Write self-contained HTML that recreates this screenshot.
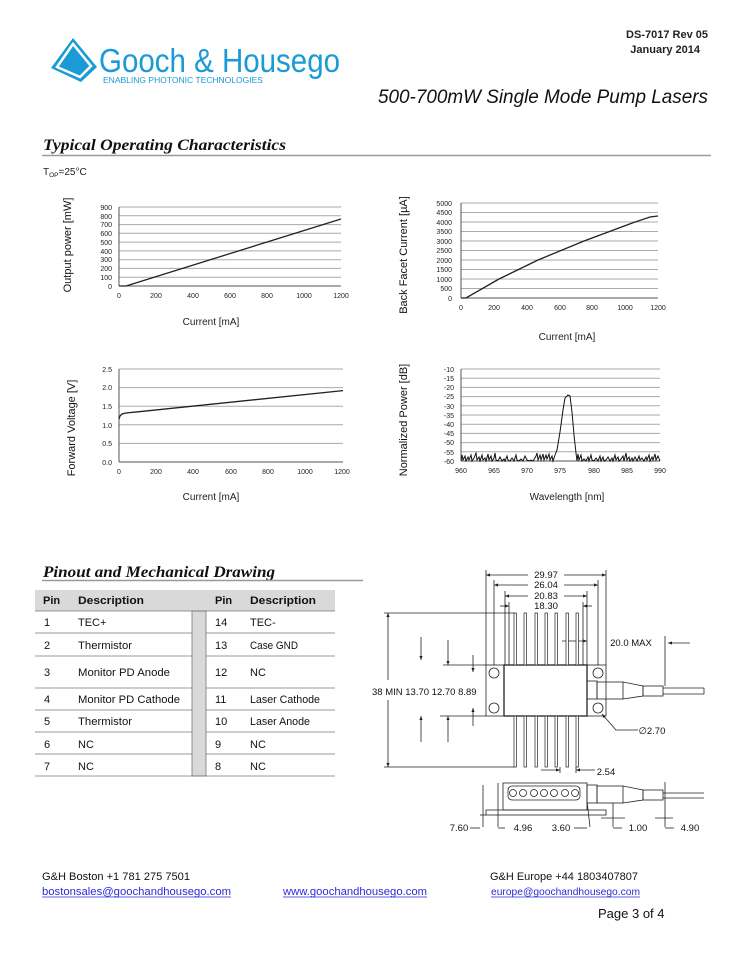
<!DOCTYPE html>
<html><head><meta charset="utf-8"><style>
html,body{margin:0;padding:0;background:#fff;}
svg{display:block}
text{font-family:"Liberation Sans",sans-serif;}
</style></head><body>
<svg width="754" height="976" viewBox="0 0 754 976" xmlns="http://www.w3.org/2000/svg">
<defs>
<marker id="ar" viewBox="0 0 10 10" refX="10" refY="5" markerWidth="5" markerHeight="5" orient="auto-start-reverse"><path d="M0,1 L10,5 L0,9 z" fill="#222"/></marker>
</defs>
<rect width="754" height="976" fill="#fff"/>
<!-- Logo -->
<polygon points="73,38 51,68 81,82 97,67" fill="#1a9ad6"/>
<polygon points="73,44 57,67 80,77 91,66" fill="none" stroke="#fff" stroke-width="2.5"/>
<text x="99" y="72" font-size="33" fill="#1a9ad6" textLength="241" lengthAdjust="spacingAndGlyphs">Gooch &amp; Housego</text>
<text x="103" y="83" font-size="8.6" fill="#1a9ad6" textLength="160" lengthAdjust="spacingAndGlyphs">ENABLING PHOTONIC TECHNOLOGIES</text>
<text x="708" y="38" font-size="11" font-weight="bold" text-anchor="end" fill="#222">DS-7017 Rev 05</text>
<text x="700" y="53" font-size="11" font-weight="bold" text-anchor="end" fill="#222">January 2014</text>
<text x="378" y="103" font-size="19.5" font-style="italic" fill="#111" textLength="330" lengthAdjust="spacingAndGlyphs">500-700mW Single Mode Pump Lasers</text>
<text x="43" y="150" font-size="16" font-weight="bold" font-style="italic" style="font-family:'Liberation Serif',serif" fill="#111" textLength="243" lengthAdjust="spacingAndGlyphs">Typical Operating Characteristics</text>
<line x1="42" y1="155.5" x2="711" y2="155.5" stroke="#999" stroke-width="1.5"/>
<text x="43" y="175" font-size="10" fill="#222">T<tspan font-size="6.5" dy="2">OP</tspan><tspan dy="-2">=25°C</tspan></text>

<!-- Chart 1 -->
<g stroke="#aaa" stroke-width="1">
<line x1="119" y1="207" x2="341" y2="207"/><line x1="119" y1="215.8" x2="341" y2="215.8"/><line x1="119" y1="224.6" x2="341" y2="224.6"/><line x1="119" y1="233.3" x2="341" y2="233.3"/><line x1="119" y1="242.1" x2="341" y2="242.1"/><line x1="119" y1="250.9" x2="341" y2="250.9"/><line x1="119" y1="259.7" x2="341" y2="259.7"/><line x1="119" y1="268.4" x2="341" y2="268.4"/><line x1="119" y1="277.2" x2="341" y2="277.2"/>
</g>
<line x1="119" y1="286" x2="341" y2="286" stroke="#555"/><line x1="119" y1="207" x2="119" y2="286" stroke="#555"/>
<g font-size="7" text-anchor="end" fill="#222">
<text x="112" y="210">900</text><text x="112" y="219">800</text><text x="112" y="227">700</text><text x="112" y="236">600</text><text x="112" y="245">500</text><text x="112" y="254">400</text><text x="112" y="262">300</text><text x="112" y="271">200</text><text x="112" y="280">100</text><text x="112" y="289">0</text>
</g>
<g font-size="7" text-anchor="middle" fill="#222">
<text x="119" y="298">0</text><text x="156" y="298">200</text><text x="193" y="298">400</text><text x="230" y="298">600</text><text x="267" y="298">800</text><text x="304" y="298">1000</text><text x="341" y="298">1200</text>
</g>
<polyline points="119,286 126,286 341,219" fill="none" stroke="#222" stroke-width="1.3"/>
<text transform="translate(71,245) rotate(-90)" font-size="11" text-anchor="middle" fill="#111">Output power [mW]</text>
<text x="211" y="325" font-size="10" text-anchor="middle" fill="#222">Current [mA]</text>

<!-- Chart 2 -->
<g stroke="#aaa">
<line x1="461" y1="203" x2="658" y2="203"/><line x1="461" y1="212.5" x2="658" y2="212.5"/><line x1="461" y1="222" x2="658" y2="222"/><line x1="461" y1="231.5" x2="658" y2="231.5"/><line x1="461" y1="241" x2="658" y2="241"/><line x1="461" y1="250.5" x2="658" y2="250.5"/><line x1="461" y1="260" x2="658" y2="260"/><line x1="461" y1="269.5" x2="658" y2="269.5"/><line x1="461" y1="279" x2="658" y2="279"/><line x1="461" y1="288.5" x2="658" y2="288.5"/>
</g>
<line x1="461" y1="298" x2="658" y2="298" stroke="#555"/><line x1="461" y1="203" x2="461" y2="298" stroke="#555"/>
<g font-size="7" text-anchor="end" fill="#222">
<text x="452" y="206">5000</text><text x="452" y="215">4500</text><text x="452" y="225">4000</text><text x="452" y="234">3500</text><text x="452" y="244">3000</text><text x="452" y="253">2500</text><text x="452" y="263">2000</text><text x="452" y="272">1500</text><text x="452" y="282">1000</text><text x="452" y="291">500</text><text x="452" y="301">0</text>
</g>
<g font-size="7" text-anchor="middle" fill="#222">
<text x="461" y="310">0</text><text x="494" y="310">200</text><text x="527" y="310">400</text><text x="560" y="310">600</text><text x="592" y="310">800</text><text x="625" y="310">1000</text><text x="658" y="310">1200</text>
</g>
<polyline points="461,298 466,298 499,279 538,260 584,241 635,222 650,217 658,216" fill="none" stroke="#222" stroke-width="1.3"/>
<text transform="translate(407,255) rotate(-90)" font-size="11" text-anchor="middle" fill="#111">Back Facet Current [µA]</text>
<text x="567" y="340" font-size="10" text-anchor="middle" fill="#222">Current [mA]</text>

<!-- Chart 3 -->
<g stroke="#aaa">
<line x1="119" y1="369" x2="343" y2="369"/><line x1="119" y1="387.6" x2="343" y2="387.6"/><line x1="119" y1="406.2" x2="343" y2="406.2"/><line x1="119" y1="424.8" x2="343" y2="424.8"/><line x1="119" y1="443.4" x2="343" y2="443.4"/>
</g>
<line x1="119" y1="462" x2="343" y2="462" stroke="#555"/><line x1="119" y1="369" x2="119" y2="462" stroke="#555"/>
<g font-size="7" text-anchor="end" fill="#222">
<text x="112" y="372">2.5</text><text x="112" y="390">2.0</text><text x="112" y="409">1.5</text><text x="112" y="428">1.0</text><text x="112" y="446">0.5</text><text x="112" y="465">0.0</text>
</g>
<g font-size="7" text-anchor="middle" fill="#222">
<text x="119" y="474">0</text><text x="156" y="474">200</text><text x="193" y="474">400</text><text x="231" y="474">600</text><text x="268" y="474">800</text><text x="305" y="474">1000</text><text x="342" y="474">1200</text>
</g>
<polyline points="119,419 120,416 122,414 126,413 138,411.8 343,390.6" fill="none" stroke="#222" stroke-width="1.3"/>
<text transform="translate(75,428) rotate(-90)" font-size="11" text-anchor="middle" fill="#111">Forward Voltage [V]</text>
<text x="211" y="500" font-size="10" text-anchor="middle" fill="#222">Current [mA]</text>

<!-- Chart 4 -->
<g stroke="#aaa">
<line x1="461" y1="369" x2="660" y2="369"/><line x1="461" y1="378.2" x2="660" y2="378.2"/><line x1="461" y1="387.4" x2="660" y2="387.4"/><line x1="461" y1="396.6" x2="660" y2="396.6"/><line x1="461" y1="405.8" x2="660" y2="405.8"/><line x1="461" y1="415" x2="660" y2="415"/><line x1="461" y1="424.2" x2="660" y2="424.2"/><line x1="461" y1="433.4" x2="660" y2="433.4"/><line x1="461" y1="442.6" x2="660" y2="442.6"/><line x1="461" y1="451.8" x2="660" y2="451.8"/>
</g>
<line x1="461" y1="461" x2="660" y2="461" stroke="#555"/><line x1="461" y1="369" x2="461" y2="461" stroke="#555"/>
<g font-size="7" text-anchor="end" fill="#222">
<text x="454" y="372">-10</text><text x="454" y="381">-15</text><text x="454" y="390">-20</text><text x="454" y="399">-25</text><text x="454" y="409">-30</text><text x="454" y="418">-35</text><text x="454" y="427">-40</text><text x="454" y="436">-45</text><text x="454" y="445">-50</text><text x="454" y="455">-55</text><text x="454" y="464">-60</text>
</g>
<g font-size="7" text-anchor="middle" fill="#222">
<text x="461" y="473">960</text><text x="494" y="473">965</text><text x="527" y="473">970</text><text x="560" y="473">975</text><text x="594" y="473">980</text><text x="627" y="473">985</text><text x="660" y="473">990</text>
</g>
<polyline fill="none" stroke="#111" stroke-width="1" points="461,461 462,455 463,460 465,456 466,461 468,457 469,460 471,455 472,461 474,458 476,453 477,460 479,457 480,461 482,455 483,460 485,458 486,461 488,454 489,460 491,456 492,461 494,458 495,453 496,460 498,461 500,457 502,461 504,459 505,461 507,456 508,460 510,461 512,458 514,461 516,455 517,460 519,461 521,459 523,461 525,456 527,460 529,461 531,460 533,461 536,456 537,453 538,460 540,455 541,460 543,454 544,460 546,455 547,459 549,454 550,460 552,456 553,461 555,455 557,450 560,432 563,410 565,398 567,396 568,395 570,396 572,412 574,435 576,453 577,461 578,454 579,460 581,455 582,461 584,459 586,461 588,457 589,461 591,455 592,460 594,461 596,458 598,461 600,456 601,461 603,457 604,461 606,460 608,457 610,461 612,458 613,461 615,455 616,460 618,457 619,461 621,459 623,456 624,461 626,453 627,460 629,457 630,461 632,458 633,461 635,457 637,461 639,456 640,460 642,458 644,461 646,457 647,460 649,455 650,461 652,457 653,460 655,454 656,460 658,456 660,461"/>
<text transform="translate(407,420) rotate(-90)" font-size="11" text-anchor="middle" fill="#111">Normalized Power [dB]</text>
<text x="567" y="500" font-size="10" text-anchor="middle" fill="#222">Wavelength [nm]</text>

<!-- Pinout -->
<text x="43" y="577" font-size="16" font-weight="bold" font-style="italic" style="font-family:'Liberation Serif',serif" fill="#111" textLength="232" lengthAdjust="spacingAndGlyphs">Pinout and Mechanical Drawing</text>
<line x1="42" y1="580.5" x2="363" y2="580.5" stroke="#999" stroke-width="1.5"/>
<rect x="35" y="590" width="300" height="21" fill="#d9d9d9"/>
<rect x="192" y="611" width="14" height="165" fill="#d9d9d9" stroke="#777" stroke-width="0.8"/>
<g stroke="#777" stroke-width="0.8">
<line x1="35" y1="611" x2="335" y2="611"/>
<line x1="35" y1="633" x2="192" y2="633"/><line x1="206" y1="633" x2="335" y2="633"/>
<line x1="35" y1="656" x2="192" y2="656"/><line x1="206" y1="656" x2="335" y2="656"/>
<line x1="35" y1="688" x2="192" y2="688"/><line x1="206" y1="688" x2="335" y2="688"/>
<line x1="35" y1="710" x2="192" y2="710"/><line x1="206" y1="710" x2="335" y2="710"/>
<line x1="35" y1="732" x2="192" y2="732"/><line x1="206" y1="732" x2="335" y2="732"/>
<line x1="35" y1="754" x2="192" y2="754"/><line x1="206" y1="754" x2="335" y2="754"/>
<line x1="35" y1="776" x2="335" y2="776"/>
</g>
<g font-size="11" fill="#111">
<text x="43" y="604" font-weight="bold">Pin</text><text x="78" y="604" font-weight="bold" textLength="66" lengthAdjust="spacingAndGlyphs">Description</text>
<text x="215" y="604" font-weight="bold">Pin</text><text x="250" y="604" font-weight="bold" textLength="66" lengthAdjust="spacingAndGlyphs">Description</text>
<text x="44" y="626">1</text><text x="78" y="626">TEC+</text><text x="215" y="626">14</text><text x="250" y="626">TEC-</text>
<text x="44" y="649">2</text><text x="78" y="649" textLength="54" lengthAdjust="spacingAndGlyphs">Thermistor</text><text x="215" y="649">13</text><text x="250" y="649" textLength="48" lengthAdjust="spacingAndGlyphs">Case GND</text>
<text x="44" y="676">3</text><text x="78" y="676" textLength="92" lengthAdjust="spacingAndGlyphs">Monitor PD Anode</text><text x="215" y="676">12</text><text x="250" y="676">NC</text>
<text x="44" y="703">4</text><text x="78" y="703" textLength="102" lengthAdjust="spacingAndGlyphs">Monitor PD Cathode</text><text x="215" y="703">11</text><text x="250" y="703" textLength="70" lengthAdjust="spacingAndGlyphs">Laser Cathode</text>
<text x="44" y="725">5</text><text x="78" y="725" textLength="54" lengthAdjust="spacingAndGlyphs">Thermistor</text><text x="215" y="725">10</text><text x="250" y="725" textLength="60" lengthAdjust="spacingAndGlyphs">Laser Anode</text>
<text x="44" y="748">6</text><text x="78" y="748">NC</text><text x="215" y="748">9</text><text x="250" y="748">NC</text>
<text x="44" y="770">7</text><text x="78" y="770">NC</text><text x="215" y="770">8</text><text x="250" y="770">NC</text>
</g>

<!-- Mechanical drawing -->
<g stroke="#222" stroke-width="0.8" fill="none">
<line x1="486" y1="570" x2="486" y2="665"/><line x1="606" y1="570" x2="606" y2="665"/>
<line x1="494" y1="580" x2="494" y2="665"/><line x1="598" y1="580" x2="598" y2="665"/>
<line x1="505" y1="591" x2="505" y2="665"/><line x1="587" y1="591" x2="587" y2="665"/>
<line x1="509" y1="602" x2="509" y2="665"/><line x1="583" y1="602" x2="583" y2="665"/>
<line x1="528" y1="575" x2="486" y2="575" marker-end="url(#ar)"/><line x1="564" y1="575" x2="606" y2="575" marker-end="url(#ar)"/>
<line x1="528" y1="585" x2="494" y2="585" marker-end="url(#ar)"/><line x1="564" y1="585" x2="598" y2="585" marker-end="url(#ar)"/>
<line x1="528" y1="596" x2="505" y2="596" marker-end="url(#ar)"/><line x1="564" y1="596" x2="587" y2="596" marker-end="url(#ar)"/>
<line x1="500" y1="606" x2="509" y2="606" marker-end="url(#ar)"/><line x1="592" y1="606" x2="583" y2="606" marker-end="url(#ar)"/>
<line x1="384" y1="613" x2="515" y2="613"/><line x1="384" y1="767" x2="515" y2="767"/>
<line x1="388" y1="680" x2="388" y2="613" marker-end="url(#ar)"/><line x1="388" y1="700" x2="388" y2="767" marker-end="url(#ar)"/>
<line x1="421" y1="637" x2="421" y2="660" marker-end="url(#ar)"/><line x1="448" y1="640" x2="448" y2="665" marker-end="url(#ar)"/>
<line x1="443" y1="665" x2="486" y2="665"/><line x1="473" y1="655" x2="473" y2="672" marker-end="url(#ar)"/>
<line x1="440" y1="716" x2="486" y2="716"/><line x1="473" y1="726" x2="473" y2="708" marker-end="url(#ar)"/>
<line x1="421" y1="742" x2="421" y2="716" marker-end="url(#ar)"/><line x1="448" y1="742" x2="448" y2="716" marker-end="url(#ar)"/>
<rect x="486" y="665" width="120" height="51" fill="#fff"/>
<rect x="504" y="665" width="83" height="51" fill="#fff" stroke-width="1.3"/>
<circle cx="494" cy="673" r="5"/><circle cx="494" cy="708" r="5"/>
<circle cx="598" cy="673" r="5"/><circle cx="598" cy="708" r="5"/>
<rect x="587" y="681" width="10" height="18"/>
<rect x="597" y="682" width="26" height="17"/>
<polyline points="623,682 643,686 643,696 623,699"/>
<rect x="643" y="686" width="20" height="10"/>
<line x1="663" y1="688" x2="704" y2="688"/><line x1="663" y1="694" x2="704" y2="694"/><line x1="704" y1="688" x2="704" y2="694"/>
<line x1="665" y1="636" x2="665" y2="686"/><line x1="690" y1="643" x2="668" y2="643" marker-end="url(#ar)"/>
<line x1="562" y1="641" x2="587" y2="641" marker-end="url(#ar)"/>
<polyline points="638,730 616,730 602,714" marker-end="url(#ar)"/>
</g>
<g fill="#fff" stroke="#222" stroke-width="0.7">
<rect x="514" y="613" width="2.5" height="52"/><rect x="524" y="613" width="2.5" height="52"/><rect x="535" y="613" width="2.5" height="52"/><rect x="545" y="613" width="2.5" height="52"/><rect x="555" y="613" width="2.5" height="52"/><rect x="566" y="613" width="2.5" height="52"/><rect x="576" y="613" width="2.5" height="52"/>
<rect x="514" y="716" width="2.5" height="51"/><rect x="524" y="716" width="2.5" height="51"/><rect x="535" y="716" width="2.5" height="51"/><rect x="545" y="716" width="2.5" height="51"/><rect x="555" y="716" width="2.5" height="51"/><rect x="566" y="716" width="2.5" height="51"/><rect x="576" y="716" width="2.5" height="51"/>
</g>
<g stroke="#222" stroke-width="0.8" fill="none">
<line x1="541" y1="770" x2="560" y2="770" marker-end="url(#ar)"/><line x1="595" y1="770" x2="576" y2="770" marker-end="url(#ar)"/>
<line x1="560" y1="767" x2="560" y2="773"/><line x1="576" y1="767" x2="576" y2="773"/>
<rect x="503" y="783" width="84" height="27"/>
<rect x="508" y="786" width="72" height="14" rx="4"/>
<circle cx="513" cy="793" r="3.5"/><circle cx="523" cy="793" r="3.5"/><circle cx="534" cy="793" r="3.5"/><circle cx="544" cy="793" r="3.5"/><circle cx="554" cy="793" r="3.5"/><circle cx="565" cy="793" r="3.5"/><circle cx="575" cy="793" r="3.5"/>
<rect x="486" y="810" width="120" height="5"/>
<rect x="587" y="785" width="10" height="18"/>
<rect x="597" y="786" width="26" height="17"/>
<polyline points="623,786 643,790 643,800 623,803"/>
<rect x="643" y="790" width="20" height="10"/>
<line x1="663" y1="793" x2="704" y2="793"/><line x1="663" y1="798" x2="704" y2="798"/>
<line x1="483" y1="785" x2="483" y2="827"/><line x1="498" y1="783" x2="498" y2="827"/>
<line x1="480" y1="815" x2="486" y2="815"/>
<line x1="587" y1="801" x2="590" y2="827"/><line x1="613" y1="803" x2="613" y2="827"/>
<line x1="665" y1="782" x2="665" y2="827"/>
<line x1="470" y1="828" x2="480" y2="828"/><line x1="498" y1="828" x2="505" y2="828"/><line x1="574" y1="828" x2="587" y2="828"/><line x1="613" y1="828" x2="622" y2="828"/><line x1="665" y1="828" x2="674" y2="828"/>
<line x1="601" y1="818" x2="625" y2="818"/><line x1="655" y1="818" x2="673" y2="818"/>
</g>
<g font-size="9.5" fill="#111" text-anchor="middle">
<text x="546" y="578">29.97</text><text x="546" y="588">26.04</text><text x="546" y="599">20.83</text><text x="546" y="609">18.30</text>
<text x="372" y="695" text-anchor="start">38 MIN  13.70 12.70 8.89</text>
<text x="631" y="646">20.0 MAX</text>
<text x="652" y="734">∅2.70</text>
<text x="606" y="775">2.54</text>
<text x="459" y="831">7.60</text><text x="523" y="831">4.96</text><text x="561" y="831">3.60</text><text x="638" y="831">1.00</text><text x="690" y="831">4.90</text>
</g>

<!-- Footer -->
<g font-size="11" fill="#111">
<text x="42" y="880" textLength="148" lengthAdjust="spacingAndGlyphs">G&amp;H Boston +1 781 275 7501</text>
<text x="490" y="880" textLength="148" lengthAdjust="spacingAndGlyphs">G&amp;H Europe +44 1803407807</text>
</g>
<g font-size="11" fill="#2a2ae0">
<text x="42" y="895" textLength="189" lengthAdjust="spacingAndGlyphs">bostonsales@goochandhousego.com</text>
<text x="283" y="895" textLength="144" lengthAdjust="spacingAndGlyphs">www.goochandhousego.com</text>
<text x="491" y="895" font-size="10" textLength="149" lengthAdjust="spacingAndGlyphs">europe@goochandhousego.com</text>
</g>
<g stroke="#2a2ae0" stroke-width="0.7">
<line x1="42" y1="897" x2="231" y2="897"/><line x1="283" y1="897" x2="427" y2="897"/><line x1="491" y1="897" x2="640" y2="897"/>
</g>
<text x="598" y="918" font-size="13" fill="#111">Page 3 of 4</text>
</svg>
</body></html>
